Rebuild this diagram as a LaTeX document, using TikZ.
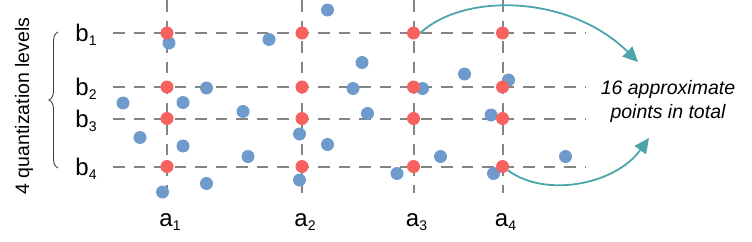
\documentclass[tikz,border=0pt]{standalone}
\usepackage{fontspec}
\setmainfont{Liberation Sans}
\usetikzlibrary{arrows.meta,decorations.pathreplacing}
\definecolor{gridgray}{HTML}{848484}
\definecolor{dotblue}{HTML}{6E9BCB}
\definecolor{dotred}{HTML}{F7625F}
\definecolor{arrowteal}{HTML}{4CA6A9}
\newcommand{\sublabel}[2]{#1\raisebox{-4pt}{\fontsize{14}{14}\selectfont #2}}

\begin{document}
\begin{tikzpicture}[x=1pt, y=-1pt, >={Triangle[length=15pt,width=14pt]},
  gridline/.style={line width=2pt, gridgray, dash pattern=on 11.5pt off 9pt},
  sample/.style={dotblue},
  approx/.style={circle, fill=dotred, inner sep=0pt, minimum size=13pt},
  levellabel/.style={font=\fontsize{24}{26}\selectfont, inner sep=0pt},
  note/.style={font=\fontsize{19.5}{23.5}\selectfont},
  hint/.style={->, line width=1.8pt, arrowteal}]
\useasboundingbox (0,0) rectangle (752,241);

% grid of quantization levels
\foreach \y in {33,87,118.5,166.5}
  \draw[gridline] (113,\y) -- (586,\y);
\foreach \x in {167,302,413.5,502.5}
  \draw[gridline] (\x,0) -- (\x,193);

% original points
\foreach \x/\y in {123/103, 140/137.5, 169/43, 183/102.5, 183/146, 206.5/88,
    206.5/183.5, 162.5/192, 243/111.5, 248/156.5, 269/39.5, 327.5/10,
    362/62.5, 353/88.5, 367.5/113.5, 299.5/134, 327.5/144.5, 299.5/180,
    464.5/74, 422.5/88.5, 508.5/80, 491/115, 440.5/156.5, 397/173.5,
    493.5/173.5, 565.5/156.5}
  \fill[sample] (\x,\y) circle (6.5);

% approximate points
\foreach \x [count=\i] in {167,302,413.5,502.5}
  \foreach \y [count=\j] in {33,87,118.5,166.5}
    \node[approx] (q\i\j) at (\x,\y) {};

% labels
\node[levellabel] (b1) at (86,35) {\sublabel{b}{1}};
\node[levellabel] (b2) at (86,89) {\sublabel{b}{2}};
\node[levellabel] (b3) at (86,120.5) {\sublabel{b}{3}};
\node[levellabel] (b4) at (86,168.5) {\sublabel{b}{4}};
\node[levellabel] (a1) at (170,222) {\sublabel{a}{1}};
\node[levellabel] (a2) at (305,222) {\sublabel{a}{2}};
\node[levellabel] (a3) at (416.5,222) {\sublabel{a}{3}};
\node[levellabel] (a4) at (505.5,222) {\sublabel{a}{4}};

\draw[decorate, decoration={brace, amplitude=9pt}, line width=0.9pt, black!75]
  (58,168) -- (58,32);
\node[note, rotate=90] (levels) at (24,106) {4 quantization levels};

\node[note, align=center] (total) at (668,101.5) {\itshape 16 approximate\\ \itshape points in total};
\coordinate (tip1) at (638,62);
\coordinate (tip2) at (649,138);
\draw[hint] (q31.east) .. controls (465,-8) and (570,-5) .. (tip1);
\draw[hint] (q44.-35) .. controls (545,198) and (615,185) .. (tip2);
\end{tikzpicture}
\end{document}
